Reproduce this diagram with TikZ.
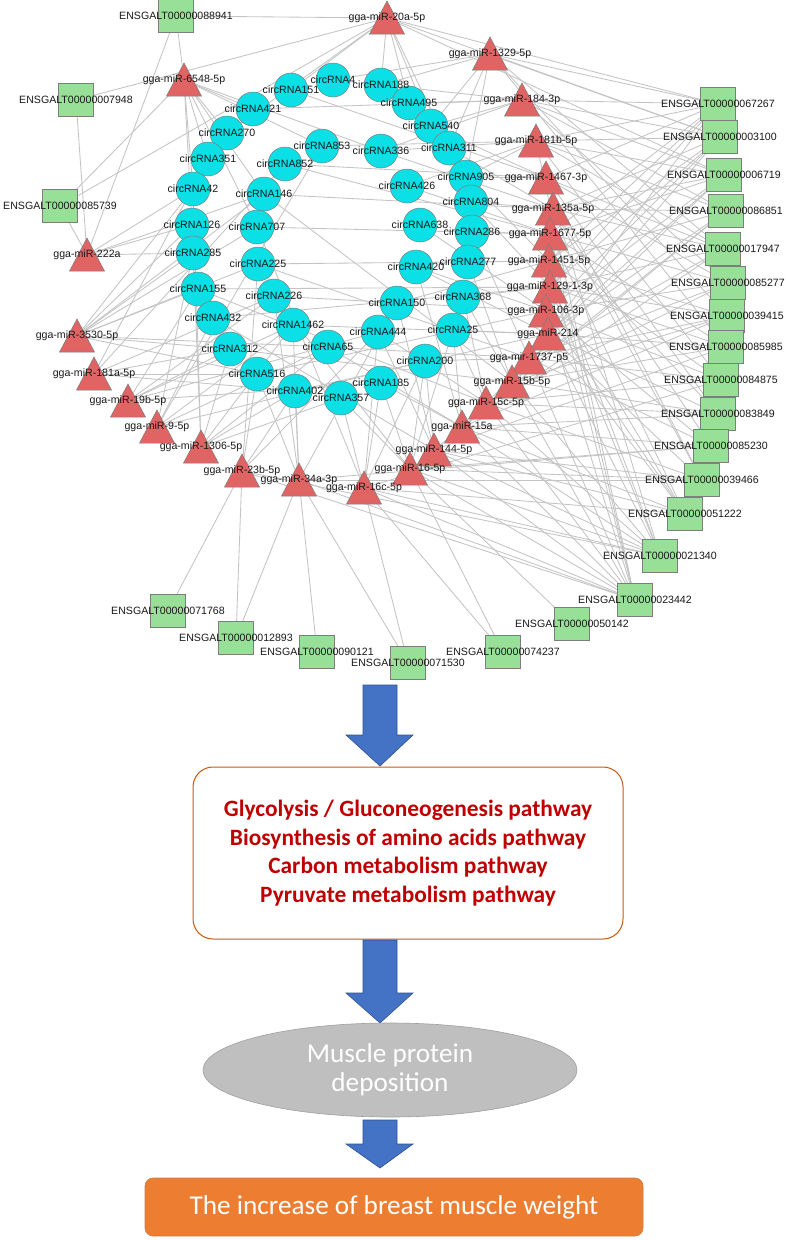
\documentclass[tikz,border=0pt]{standalone}
\usepackage{fontspec}
\setmainfont{Liberation Sans}
\newfontfamily\calib{Carlito}
\usetikzlibrary{shapes.geometric}
\definecolor{edgec}{RGB}{196,196,196}
\definecolor{circc}{RGB}{10,224,230}
\definecolor{sqc}{RGB}{152,224,152}
\definecolor{tric}{RGB}{224,100,100}
\definecolor{bordc}{RGB}{125,125,125}
\definecolor{labc}{RGB}{25,25,25}
\definecolor{arrowc}{RGB}{68,114,196}
\definecolor{arrowb}{RGB}{47,82,143}
\definecolor{pathred}{RGB}{192,0,0}
\definecolor{boxb}{RGB}{197,90,17}
\definecolor{ellc}{RGB}{191,191,191}
\definecolor{orangec}{RGB}{237,125,49}
\tikzset{
  edge/.style={draw=edgec, line width=0.85pt},
  circnode/.style={circle, fill=circc, draw=bordc, line width=0.5pt, minimum size=34pt, inner sep=0pt},
  sqnode/.style={rectangle, fill=sqc, draw=bordc, line width=0.6pt, minimum width=35pt, minimum height=33pt, inner sep=0pt},
  lab/.style={font=\fontsize{10.6}{12}\selectfont, text=labc, inner sep=0pt},
  tripic/.pic={\filldraw[fill=tric, draw=bordc, line width=0.5pt] (0,-17) -- (17.5,16) -- (-17.5,16) -- cycle;},
  arrowsty/.style={fill=arrowc, draw=arrowb, line width=0.6pt}
}
\newcommand{\myblockarrow}[3]{\filldraw[arrowsty] (363,#1) -- (397,#1) -- (397,#2) -- (413,#2) -- (380,#3) -- (346,#2) -- (363,#2) -- cycle;}
\begin{document}
\begin{tikzpicture}[x=1pt,y=-1pt]
\useasboundingbox (0,0) rectangle (786,1240);
\fill[white] (0,0) rectangle (786,1240);

% ---- mRNA (squares)
\foreach \n/\x/\y in {088941/176/16, 007948/76/100, 085739/60/206, 067267/718/104, 003100/720/137, 006719/724/175, 086851/726/211, 017947/723/249, 085277/728/283, 039415/727/316, 085985/726/347, 084875/721/380, 083849/718/414, 085230/711/446, 039466/702/480, 051222/685/514, 021340/660/556, 023442/635/600, 050142/572/624, 074237/503/652, 071530/408/663, 090121/317/652, 012893/236/638, 071768/168/611}
  \coordinate (e\n) at (\x,\y);

% ---- miRNA (triangles)
\foreach \n/\x/\y in {6548/184/80, 20a/387/18, 1329/490/54, 184/522/100, 181b/536/141, 1467/546/178, 135a/553/209, 1677/550/234, 1451/549/261, 129/550/287, 106/546/311, 214/548/334, 1737/529/358, 15b/512/382, 15c/486/403, 15a/462/427, 144/434/450, 16/410/469, 16c/364/488, 34a/299/480, 23b/242/471, 1306/201/447, 95/157/427, 19b/128/401, 181a/94/374, 3530/77/336, 222a/87/255}
  \coordinate (m\n) at (\x,\y);

% ---- circRNA (circles)
\foreach \n/\x/\y in {4/333/80, 151/291/90, 188/381/85, 421/253/109, 495/409/103, 270/227/133, 540/431/126, 853/322/146, 336/381/151, 311/449/148, 351/208/159, 852/285/164, 905/466/177, 426/407/186, 42/193/189, 146/264/194, 804/471/202, 126/192/225, 707/257/227, 638/420/225, 286/472/232, 285/193/253, 277/468/262, 420/416/267, 225/258/264, 155/198/289, 226/274/296, 150/397/303, 368/463/297, 432/213/318, 1462/293/325, 444/378/332, 25/453/330, 65/328/347, 312/230/349, 200/425/361, 516/257/374, 185/381/383, 402/295/391, 357/341/398}
  \coordinate (c\n) at (\x,\y);

% ---- edges
\foreach \a/\bs in {
 m20a/{e088941,e007948,e085739,c151,c270,c188,c495,c311,c540,e067267,e003100,e006719},
 m6548/{e088941,e085739,c421,c270,c351,c42,c126,c707,c853,c336,c146},
 m222a/{e088941,e007948,e085739,c285,c126,c146,c42},
 m3530/{c126,c285,c42,c707,c155,c225,c65,c146,c312,c516},
 m181a/{c516,c351,c312,c402,c852,c226},
 m19b/{c155,c312,c226,c185,c1462,c444},
 m95/{c432,c285,c1462,c200,c853,c65},
 m1306/{c126,c312,c65,c357,c42,c402,c1462},
 m23b/{c225,c516,e071768,e012893,c402,c444,e021340,e023442},
 m34a/{c516,c226,c402,c150,e012893,e090121,e071530,c1462,e023442,e039466,e085230},
 m16c/{c357,c185,c444,c200,e071530,e074237,e021340,e023442,c707,e084875,e051222},
 m16/{c185,c357,c25,e050142,e023442,e021340,e074237,c226,e085230,e039466,c200},
 m144/{c200,c150,e023442,e021340,e039466,c432,e086851,e085985,e051222,c444},
 m15a/{c25,c420,e051222,e023442,e021340,e085230,c65,e017947,e039415,e083849,c185},
 m15c/{c368,c444,e084875,e083849,e021340,c155,e006719,e085277,e039466,e023442,c25},
 m15b/{c277,c312,e085985,e039415,e023442,c146,e067267,e086851,e083849,e021340,c368},
 m1737/{c286,c65,e085277,e017947,e085230,c225,e003100,e039415,e084875,e023442,c200},
 m214/{c420,c1462,e086851,e039466,e083849,c402,e006719,e085985,e051222,e021340,c25},
 m106/{c638,c226,e006719,e084875,e051222,c516,e003100,e085277,e085230,e023442,c420},
 m129/{c804,c155,e003100,e085985,e021340,c432,e067267,e017947,e039415,e051222,c368},
 m1451/{c905,c225,e067267,e039415,e023442,c150,e003100,e086851,e084875,e021340,c277},
 m1677/{c426,c707,e085277,e083849,e051222,c852,e067267,e006719,e085985,e023442,c286},
 m135a/{c311,c146,e006719,e086851,e085230,c336,e003100,e017947,e039466,c804},
 m1467/{c540,c852,e017947,e039466,e021340,c151,e067267,e085277,e083849,c905},
 m181b/{c336,c853,e003100,e084875,e023442,e067267,c905,e006719,e086851,e017947,c426},
 m184/{c495,c421,e086851,e085277,e067267,c188,e003100,e006719,c540,c336},
 m1329/{c188,c4,e017947,e039415,e085985,c540,e067267,e003100,c311,c905}}
 {\foreach \b in \bs {\draw[edge] (\a) -- (\b);}}

% ---- shapes
\foreach \n in {088941,007948,085739,067267,003100,006719,086851,017947,085277,039415,085985,084875,083849,085230,039466,051222,021340,023442,050142,074237,071530,090121,012893,071768}
  \node[sqnode] at (e\n) {};
\foreach \n in {4,151,188,421,495,270,540,853,336,311,351,852,905,426,42,146,804,126,707,638,286,285,277,420,225,155,226,150,368,432,1462,444,25,65,312,200,516,185,402,357}
  \node[circnode] at (c\n) {};
\foreach \n in {20a,1329,6548,184,181b,1467,135a,1677,222a,1451,129,106,214,3530,1737,181a,15b,19b,15c,15a,95,1306,144,16,23b,34a,16c}
  \pic at (m\n) {tripic};

% ---- labels
\foreach \n in {088941,007948,085739,067267,003100,006719,086851,017947,085277,039415,085985,084875,083849,085230,039466,051222,021340,023442,050142,074237,071530,090121,012893,071768}
  \node[lab] at (e\n) {ENSGALT00000\n};
\foreach \n in {4,151,188,421,495,270,540,853,336,311,351,852,905,426,42,146,804,126,707,638,286,285,277,420,225,155,226,150,368,432,1462,444,25,65,312,200,516,185,402,357}
  \node[lab] at (c\n) {circRNA\n};
\foreach \n/\t in {6548/gga-miR-6548-5p, 20a/gga-miR-20a-5p, 1329/gga-miR-1329-5p, 184/gga-miR-184-3p, 181b/gga-miR-181b-5p, 1467/gga-miR-1467-3p, 135a/gga-miR-135a-5p, 1677/gga-miR-1677-5p, 1451/gga-miR-1451-5p, 129/gga-miR-129-1-3p, 106/gga-miR-106-3p, 214/gga-miR-214, 1737/gga-mir-1737-p5, 15b/gga-miR-15b-5p, 15c/gga-miR-15c-5p, 15a/gga-miR-15a, 144/gga-miR-144-5p, 16/gga-miR-16-5p, 16c/gga-miR-16c-5p, 34a/gga-miR-34a-3p, 23b/gga-miR-23b-5p, 1306/gga-miR-1306-5p, 95/gga-miR-9-5p, 19b/gga-miR-19b-5p, 181a/gga-miR-181a-5p, 3530/gga-miR-3530-5p, 222a/gga-miR-222a}
  \node[lab] at (m\n) {\t};

% ---- flow part
\myblockarrow{685}{735}{766}
\node[draw=boxb, line width=1pt, fill=white, rounded corners=20pt, minimum width=430pt, minimum height=172pt, inner sep=0pt,
      align=center, text=pathred, font=\calib\bfseries\fontsize{23.4}{28.5}\selectfont] (pbox) at (408,853)
  {Glycolysis / Gluconeogenesis pathway\\Biosynthesis of amino acids pathway\\Carbon metabolism pathway\\Pyruvate metabolism pathway};
\myblockarrow{940}{993}{1023}
\node[ellipse, fill=ellc, draw=gray!75, line width=0.6pt, minimum width=374pt, minimum height=94pt, inner sep=0pt,
      align=center, text=white, font=\calib\fontsize{27.2}{29}\selectfont] (ell) at (390,1070)
  {Muscle protein\\deposition};
\myblockarrow{1120}{1144}{1168}
\node[rectangle, fill=orangec, draw=boxb!80, line width=0.6pt, rounded corners=8pt, minimum width=498pt, minimum height=58pt, inner sep=0pt,
      text=white, font=\calib\fontsize{27.2}{30}\selectfont] (obox) at (394,1207)
  {The increase of breast muscle weight};
\end{tikzpicture}
\end{document}
